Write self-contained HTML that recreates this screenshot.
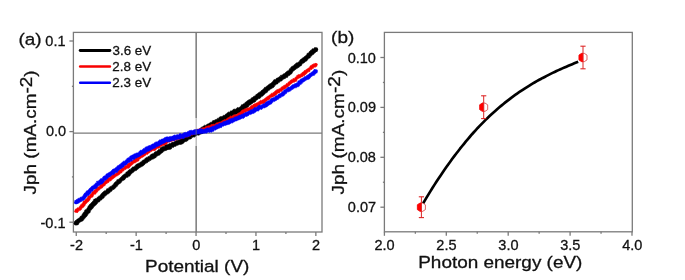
<!DOCTYPE html>
<html><head><meta charset="utf-8"><style>
html,body{margin:0;padding:0;background:#fff;}
svg{display:block;will-change:transform;}
text{font-family:"Liberation Sans",sans-serif;stroke:#111;stroke-width:0.3px;}
</style></head><body>
<svg width="685" height="280" viewBox="0 0 685 280"><g>
<rect width="685" height="280" fill="#fff"/>
<rect x="73.4" y="32.4" width="248.6" height="199.6" fill="none" stroke="#7a7a7a" stroke-width="1.3"/>
<line x1="73.40" y1="133.20" x2="322.00" y2="133.20" stroke="#7a7a7a" stroke-width="1.3"/>
<line x1="76.25" y1="232.00" x2="76.25" y2="236.00" stroke="#7a7a7a" stroke-width="1.3"/>
<line x1="136.15" y1="232.00" x2="136.15" y2="236.00" stroke="#7a7a7a" stroke-width="1.3"/>
<line x1="196.05" y1="232.00" x2="196.05" y2="236.00" stroke="#7a7a7a" stroke-width="1.3"/>
<line x1="255.95" y1="232.00" x2="255.95" y2="236.00" stroke="#7a7a7a" stroke-width="1.3"/>
<line x1="315.85" y1="232.00" x2="315.85" y2="236.00" stroke="#7a7a7a" stroke-width="1.3"/>
<line x1="106.20" y1="232.00" x2="106.20" y2="234.00" stroke="#7a7a7a" stroke-width="1.3"/>
<line x1="166.10" y1="232.00" x2="166.10" y2="234.00" stroke="#7a7a7a" stroke-width="1.3"/>
<line x1="226.00" y1="232.00" x2="226.00" y2="234.00" stroke="#7a7a7a" stroke-width="1.3"/>
<line x1="285.90" y1="232.00" x2="285.90" y2="234.00" stroke="#7a7a7a" stroke-width="1.3"/>
<line x1="69.40" y1="222.20" x2="73.40" y2="222.20" stroke="#7a7a7a" stroke-width="1.3"/>
<line x1="69.40" y1="131.60" x2="73.40" y2="131.60" stroke="#7a7a7a" stroke-width="1.3"/>
<line x1="69.40" y1="41.00" x2="73.40" y2="41.00" stroke="#7a7a7a" stroke-width="1.3"/>
<line x1="71.90" y1="176.90" x2="73.40" y2="176.90" stroke="#7a7a7a" stroke-width="1.3"/>
<line x1="71.90" y1="86.30" x2="73.40" y2="86.30" stroke="#7a7a7a" stroke-width="1.3"/>
<path d="M77.42,224.91 L78.47,224.40 L78.93,223.27 L79.42,222.65 L79.97,222.17 L80.84,221.75 L81.93,221.19 L83.04,220.76 L83.69,219.81 L84.30,218.97 L85.08,218.05 L85.94,217.21 L86.86,216.32 L87.63,214.94 L88.12,214.08 L89.09,213.18 L90.18,212.44 L90.33,210.80 L91.41,210.09 L91.71,209.01 L92.88,208.54 L93.35,207.64 L93.99,206.61 L95.30,205.56 L96.31,204.87 L96.49,203.88 L96.92,203.92 L97.62,203.17 L98.06,202.07 L99.36,202.06 L100.09,200.86 L100.56,200.13 L101.58,199.89 L102.12,199.38 L102.92,198.49 L104.09,197.81 L104.52,196.59 L105.41,196.18 L105.74,195.38 L106.75,195.08 L107.20,194.10 L108.39,194.08 L108.92,193.11 L109.72,192.97 L110.10,191.94 L111.01,191.52 L112.11,190.91 L112.09,189.77 L113.18,189.63 L114.59,188.97 L115.11,188.04 L115.77,187.78 L116.36,186.81 L117.43,186.23 L117.84,185.11 L118.22,184.84 L119.20,183.98 L120.16,183.38 L120.81,182.85 L121.51,182.23 L121.89,181.04 L122.94,180.45 L123.86,180.15 L124.76,179.63 L125.31,178.85 L125.91,178.30 L126.60,177.37 L128.13,177.26 L128.17,176.27 L129.36,176.25 L130.28,175.48 L130.86,174.39 L131.30,173.71 L131.91,173.49 L132.74,172.67 L133.96,171.83 L134.57,171.09 L135.12,170.74 L135.48,170.71 L136.43,170.56 L137.25,169.44 L138.36,169.00 L138.68,168.11 L139.03,167.90 L140.01,167.65 L140.95,166.82 L142.16,166.57 L142.71,165.90 L143.25,165.87 L144.07,164.89 L144.84,164.45 L145.66,163.60 L146.14,162.84 L146.87,163.07 L147.91,162.30 L148.43,161.47 L149.27,161.41 L149.54,160.61 L150.71,160.53 L151.45,159.76 L152.00,159.56 L152.82,158.94 L153.88,158.86 L154.50,158.36 L155.45,158.01 L156.39,156.94 L156.71,155.98 L157.21,156.14 L158.01,155.45 L159.32,155.16 L160.20,154.46 L160.34,154.20 L161.20,153.53 L162.24,152.76 L163.11,152.18 L163.55,151.25 L164.43,151.05 L164.68,150.87 L164.93,150.70 L166.14,150.43 L167.58,149.71 L168.10,148.79 L167.63,148.88 L167.66,149.51 L169.58,149.43 L171.42,148.91 L171.78,147.71 L172.15,147.30 L173.33,147.50 L173.81,147.13 L174.10,146.73 L174.83,146.26 L176.07,146.31 L176.79,145.27 L177.31,145.45 L178.00,144.77 L178.73,144.88 L179.22,144.41 L180.53,144.40 L181.29,144.49 L181.90,143.89 L182.88,143.67 L183.73,142.94 L184.69,142.09 L185.16,141.53 L186.32,141.64 L186.91,140.79 L187.89,140.76 L188.23,139.58 L188.96,139.51 L189.75,139.11 L190.80,138.96 L191.59,138.48 L191.58,137.82 L192.33,137.50 L193.14,136.92 L194.53,137.16 L195.05,136.26 L195.12,136.14 L195.81,136.17 L196.71,135.28 L197.77,134.97 L198.59,135.27 L199.10,135.00 L199.96,134.62 L200.87,133.92 L201.98,133.68 L203.22,133.24 L203.43,131.90 L203.96,132.04 L204.71,131.51 L205.68,131.20 L206.46,130.56 L206.80,130.26 L207.60,129.86 L208.52,129.41 L209.15,129.08 L210.01,128.60 L210.41,128.51 L211.42,128.32 L212.36,127.44 L212.79,127.13 L213.24,127.50 L214.21,126.80 L215.80,125.93 L216.84,124.88 L216.66,124.92 L217.22,124.70 L218.50,124.13 L218.76,123.32 L219.19,123.83 L220.97,123.25 L221.79,122.23 L222.19,121.29 L222.46,121.38 L222.81,121.34 L224.09,120.82 L224.83,120.73 L225.21,120.05 L225.98,120.69 L227.21,119.75 L228.23,119.43 L229.28,118.65 L230.15,118.04 L230.87,117.50 L230.73,116.54 L231.57,116.92 L232.47,115.53 L233.25,115.60 L234.20,115.36 L234.97,114.94 L235.46,114.72 L235.49,114.29 L236.42,114.35 L237.57,113.83 L238.41,113.75 L239.37,113.43 L239.95,112.49 L241.02,113.13 L241.30,111.93 L242.32,111.38 L243.54,110.67 L244.38,109.96 L244.91,109.32 L245.54,108.59 L246.57,108.20 L247.02,107.61 L248.21,106.98 L248.80,106.44 L248.89,105.49 L249.44,105.36 L250.67,104.68 L251.83,103.87 L252.21,103.43 L252.84,103.18 L253.46,102.41 L254.32,102.29 L255.36,101.91 L255.95,100.60 L256.90,99.96 L257.44,99.68 L258.17,99.12 L258.80,98.55 L259.97,98.50 L260.86,97.46 L261.43,96.86 L261.89,95.94 L262.62,96.28 L263.28,95.57 L264.27,94.42 L265.17,93.68 L265.91,92.75 L266.67,92.87 L267.07,92.21 L268.08,91.31 L268.50,90.19 L269.56,90.16 L269.87,89.47 L270.70,88.88 L271.50,88.81 L272.20,88.10 L273.56,87.43 L274.38,86.65 L274.49,85.51 L275.46,85.29 L276.05,84.28 L276.77,84.09 L277.70,83.95 L278.43,82.48 L279.66,82.28 L279.87,81.45 L279.89,81.02 L280.86,81.28 L282.06,80.63 L282.68,79.80 L283.76,79.09 L283.96,78.63 L285.07,78.73 L285.68,78.04 L286.14,77.60 L287.47,77.43 L288.14,75.91 L288.96,75.43 L289.92,75.33 L290.27,74.50 L291.53,74.02 L292.25,72.74 L292.81,71.74 L293.61,71.02 L294.08,70.56 L294.58,70.30 L295.26,69.62 L296.05,69.33 L297.03,68.30 L298.00,67.85 L298.61,67.49 L299.24,67.15 L299.76,66.16 L301.27,65.70 L301.93,64.53 L302.34,63.57 L303.18,63.24 L303.82,63.06 L304.77,62.32 L305.55,61.57 L306.08,61.30 L306.99,60.69 L307.71,59.73 L308.10,58.69 L309.01,58.35 L310.20,57.74 L310.91,56.36 L311.76,55.79 L312.33,55.22 L312.98,54.50 L313.93,54.11 L314.20,53.18 L315.25,52.76 L315.63,52.19 L316.34,51.54 L317.12,51.51 L314.88,47.44 L314.23,48.34 L313.45,48.86 L312.12,48.82 L311.69,50.01 L310.75,50.23 L309.81,51.05 L309.27,51.77 L308.67,53.03 L307.00,53.43 L306.88,54.77 L306.37,55.08 L305.56,55.78 L304.77,56.45 L303.98,56.82 L303.63,57.55 L302.43,57.92 L301.84,58.90 L301.23,59.09 L300.26,59.74 L299.60,60.95 L298.72,61.80 L297.90,62.55 L297.38,62.73 L296.66,62.85 L295.68,63.43 L294.90,64.38 L293.86,64.96 L293.81,65.62 L293.18,66.00 L292.21,66.25 L291.35,66.81 L290.47,68.15 L289.44,68.79 L289.04,70.01 L288.53,70.84 L287.74,70.85 L286.88,71.42 L285.93,72.12 L285.14,72.98 L284.71,73.56 L284.30,73.49 L283.25,73.95 L282.73,74.80 L281.99,75.17 L280.47,75.33 L280.27,76.63 L279.47,76.43 L279.05,76.88 L278.64,77.33 L277.29,78.12 L276.09,78.54 L275.53,79.72 L274.68,79.60 L273.89,79.71 L273.12,81.04 L272.45,81.63 L271.80,82.41 L270.91,83.27 L269.99,83.86 L269.48,84.06 L269.02,84.48 L268.01,85.08 L267.52,85.73 L266.50,86.17 L265.83,87.29 L264.62,87.36 L264.37,88.00 L263.68,88.56 L262.72,89.75 L261.76,90.37 L261.03,90.83 L260.82,91.43 L260.22,91.63 L259.08,92.39 L258.15,92.88 L257.43,93.70 L256.84,94.28 L256.10,94.37 L255.48,95.39 L254.79,95.89 L253.54,96.38 L252.94,97.33 L252.38,97.62 L251.60,97.70 L251.03,98.52 L250.41,99.22 L249.47,99.61 L248.08,100.21 L247.43,100.68 L247.38,100.86 L246.46,101.49 L245.38,102.21 L244.64,103.06 L244.06,103.64 L243.27,104.11 L242.32,104.82 L241.36,104.84 L240.93,106.32 L240.05,106.73 L240.01,107.74 L239.11,107.04 L238.58,108.06 L237.21,107.51 L236.68,108.24 L236.24,108.79 L235.44,109.10 L235.15,109.47 L234.43,109.02 L233.07,109.51 L232.20,110.41 L231.57,111.05 L230.50,110.86 L229.96,112.08 L229.46,112.21 L228.50,111.97 L227.12,113.01 L226.64,113.86 L225.49,114.11 L225.32,114.73 L224.71,114.99 L224.69,115.60 L223.64,115.13 L222.77,116.09 L222.09,116.55 L221.68,116.62 L220.64,116.58 L218.97,117.43 L218.58,118.42 L217.40,118.23 L217.94,118.99 L216.79,119.22 L215.48,119.61 L215.29,119.76 L214.44,120.23 L212.48,120.83 L212.10,122.15 L212.25,121.90 L211.85,122.21 L210.63,122.27 L209.51,123.09 L209.08,123.22 L208.66,123.80 L207.49,124.06 L206.72,124.45 L206.17,125.17 L205.32,125.41 L204.55,125.16 L203.49,126.12 L202.75,126.47 L202.22,126.98 L201.45,127.21 L200.36,128.01 L199.73,129.09 L199.09,129.14 L198.54,129.63 L198.00,129.61 L197.42,129.93 L196.41,130.05 L195.60,130.92 L195.05,131.05 L194.67,131.05 L193.79,131.14 L192.39,131.74 L191.71,132.60 L191.07,132.42 L190.56,132.95 L189.83,133.04 L188.75,133.91 L187.91,134.37 L187.09,134.35 L186.56,135.19 L185.48,135.38 L184.55,135.77 L184.02,136.52 L183.35,137.27 L182.74,137.77 L181.46,138.08 L181.30,138.97 L180.54,138.58 L180.10,139.33 L179.28,139.30 L178.43,139.93 L178.17,140.18 L177.29,140.33 L176.21,140.52 L175.69,140.96 L174.49,141.43 L173.95,141.93 L173.68,142.30 L172.82,142.06 L171.80,142.44 L170.89,143.23 L170.18,143.39 L168.95,143.79 L168.37,144.71 L168.49,144.89 L168.89,144.17 L167.37,144.42 L165.06,144.88 L164.49,146.06 L164.37,146.25 L164.10,146.41 L162.86,146.47 L161.56,147.14 L160.46,147.59 L160.01,148.69 L159.32,149.41 L158.63,149.55 L158.18,149.86 L157.22,150.88 L156.27,151.48 L155.85,151.62 L155.13,151.72 L154.16,152.60 L153.23,153.67 L152.59,153.70 L152.01,154.12 L151.00,154.36 L150.37,154.93 L149.92,155.52 L149.19,156.38 L148.14,156.48 L147.94,157.18 L146.74,157.26 L145.88,157.95 L145.00,158.40 L144.74,159.07 L144.00,159.77 L142.61,160.15 L142.18,160.64 L141.55,161.39 L141.03,161.85 L140.11,162.30 L139.15,163.17 L138.27,163.21 L138.06,164.10 L137.33,163.82 L136.13,164.50 L135.26,165.32 L135.12,166.47 L134.27,166.19 L133.86,166.95 L132.50,167.06 L131.51,168.01 L130.68,168.91 L130.30,169.74 L129.43,169.36 L128.50,170.22 L127.61,171.11 L127.03,172.00 L126.09,172.02 L125.78,173.13 L124.82,173.82 L123.85,174.39 L123.37,174.78 L122.45,175.39 L121.77,176.28 L121.16,177.07 L120.25,177.73 L119.43,178.40 L118.90,178.93 L118.12,179.61 L116.82,179.83 L116.69,181.28 L116.05,181.36 L115.10,182.05 L114.17,183.12 L113.86,183.85 L113.09,184.45 L112.31,185.18 L111.38,186.16 L110.55,186.24 L110.15,186.90 L108.92,187.38 L108.46,188.20 L107.95,188.71 L106.74,188.73 L106.29,189.84 L105.76,190.87 L104.51,190.67 L103.84,191.55 L102.99,191.88 L102.17,192.78 L101.26,193.69 L100.65,194.66 L100.00,195.17 L99.77,196.07 L98.60,196.21 L97.76,197.00 L96.88,197.67 L96.27,198.45 L95.54,198.51 L94.74,199.09 L93.94,199.12 L93.21,200.65 L92.22,201.83 L91.27,202.87 L90.41,203.71 L89.82,204.11 L89.10,205.24 L88.22,206.01 L87.75,207.31 L86.88,208.45 L86.28,209.57 L84.87,209.93 L84.54,211.22 L83.62,212.18 L82.86,213.41 L82.30,213.97 L81.91,215.23 L81.31,215.93 L80.23,216.35 L79.84,217.41 L79.04,217.89 L78.46,218.37 L77.91,218.86 L76.86,219.34 L76.15,220.35 L75.07,220.77 L74.68,221.58Z" fill="#000" stroke="#000" stroke-width="0.6" stroke-linejoin="round"/>
<circle cx="76.00" cy="223.18" r="2.23" fill="#000"/>
<circle cx="316.00" cy="49.48" r="2.18" fill="#000"/>
<path d="M77.03,212.70 L78.08,212.12 L78.48,211.02 L78.90,210.80 L79.84,210.55 L81.02,209.99 L81.74,208.78 L82.44,208.12 L83.13,207.39 L84.03,206.68 L84.89,205.72 L85.41,204.61 L86.19,203.62 L86.99,202.96 L87.50,202.10 L88.45,201.67 L89.44,200.54 L90.11,199.38 L90.67,198.22 L91.28,197.62 L92.47,197.27 L93.11,196.39 L93.54,195.10 L94.31,194.37 L95.45,194.15 L96.08,193.53 L96.68,192.51 L97.80,191.71 L97.92,190.22 L98.50,190.49 L99.37,190.18 L99.97,189.17 L101.02,188.48 L102.03,188.09 L102.85,187.40 L103.27,186.41 L104.13,185.96 L105.15,185.52 L105.59,184.38 L105.97,183.67 L106.88,183.68 L107.79,182.77 L108.92,182.35 L109.42,181.33 L109.81,180.76 L110.84,181.08 L111.44,179.94 L112.44,179.27 L113.18,178.79 L113.85,178.20 L114.49,177.68 L115.29,177.13 L115.64,176.75 L116.35,176.18 L117.41,175.80 L118.20,175.31 L118.99,174.68 L119.95,174.08 L120.59,172.97 L121.51,172.88 L122.12,172.45 L122.38,171.29 L123.45,171.10 L124.10,170.57 L124.66,169.47 L125.99,169.38 L126.34,168.50 L126.68,168.64 L127.53,168.24 L128.90,168.14 L129.94,167.11 L130.48,166.26 L131.15,165.72 L131.69,165.20 L132.68,164.49 L133.17,163.63 L133.74,163.62 L134.45,163.06 L135.54,162.78 L136.46,162.13 L136.99,161.57 L137.99,161.22 L139.08,160.69 L138.95,159.28 L140.18,159.06 L140.78,158.08 L141.15,157.97 L141.92,157.44 L142.91,157.15 L143.67,156.68 L144.34,155.98 L145.21,155.71 L145.94,154.87 L146.27,154.26 L147.50,154.56 L148.17,153.74 L148.89,153.02 L149.82,152.72 L150.46,151.96 L150.93,151.07 L151.85,151.44 L152.23,150.60 L153.13,150.66 L153.66,150.49 L154.77,150.66 L155.93,149.84 L156.48,149.17 L157.10,148.49 L157.64,148.21 L158.77,148.31 L159.67,147.68 L160.10,147.30 L160.92,146.36 L161.73,146.30 L162.17,145.75 L162.69,145.48 L163.37,145.46 L164.53,145.29 L165.58,144.62 L166.55,144.00 L167.20,143.58 L167.45,143.17 L167.88,142.39 L168.82,142.12 L169.96,142.11 L170.63,141.48 L171.40,141.84 L171.84,141.00 L172.37,140.88 L173.12,140.98 L173.73,140.93 L174.64,140.51 L175.52,140.38 L176.27,139.81 L177.00,139.46 L177.56,139.97 L178.21,139.19 L179.48,139.56 L180.31,138.97 L180.81,138.90 L181.45,138.71 L182.07,138.56 L182.98,137.66 L183.87,137.46 L184.55,137.39 L185.11,137.51 L185.57,137.08 L186.52,137.05 L187.63,136.90 L188.67,136.78 L189.14,135.88 L189.76,135.48 L190.44,135.94 L191.21,134.95 L192.09,135.24 L192.85,134.85 L193.41,134.22 L194.12,134.47 L195.10,133.98 L196.07,133.84 L196.82,133.51 L197.63,133.46 L198.02,132.86 L198.72,132.78 L199.29,132.37 L200.06,132.52 L201.22,132.41 L201.65,131.45 L202.80,131.80 L203.51,131.00 L203.99,130.99 L204.57,130.95 L205.53,130.92 L206.47,130.40 L207.17,129.91 L207.91,129.80 L208.84,129.37 L209.25,128.92 L209.44,129.18 L210.63,129.28 L211.78,128.69 L212.39,128.31 L212.74,127.93 L213.44,128.09 L214.22,127.62 L215.38,127.95 L216.17,127.21 L217.46,127.10 L218.26,126.95 L218.39,126.07 L219.33,126.08 L219.87,125.65 L220.60,125.14 L221.17,124.79 L221.91,125.07 L223.22,124.84 L224.00,123.99 L224.48,123.18 L225.17,122.84 L225.92,122.82 L226.71,122.84 L227.60,122.33 L228.40,121.69 L229.05,121.77 L229.78,120.97 L230.78,120.50 L231.64,119.62 L231.65,119.00 L232.17,119.74 L233.42,119.35 L234.36,119.09 L234.87,118.21 L235.60,118.01 L236.51,118.09 L237.37,117.56 L238.15,117.33 L238.61,116.64 L239.66,116.33 L240.30,115.70 L241.27,115.41 L241.91,114.66 L242.95,114.31 L243.84,113.55 L244.22,113.17 L244.49,112.35 L245.67,112.65 L246.32,112.01 L246.71,111.57 L247.57,111.26 L248.15,111.23 L248.76,111.35 L249.56,110.92 L250.65,110.35 L251.92,109.83 L252.68,109.21 L253.77,108.89 L253.87,107.69 L254.98,107.91 L255.54,107.56 L256.03,106.70 L256.64,106.97 L257.34,106.25 L258.13,106.25 L258.92,105.47 L259.85,105.16 L260.51,104.49 L261.15,103.87 L261.76,103.94 L262.41,103.72 L263.47,103.67 L264.61,103.28 L265.32,102.24 L266.14,101.59 L266.91,100.94 L267.19,100.04 L267.96,100.28 L268.87,99.76 L269.90,98.98 L270.46,97.93 L270.94,97.35 L271.80,97.23 L272.72,96.99 L273.57,96.54 L274.15,96.33 L275.10,95.78 L275.72,95.11 L276.74,94.60 L277.35,93.60 L278.14,93.12 L278.58,92.92 L279.41,93.13 L280.10,92.08 L280.66,91.30 L281.91,91.38 L282.44,90.20 L283.24,89.81 L283.73,89.38 L284.40,89.00 L285.62,88.87 L286.32,88.16 L286.87,87.34 L287.83,86.93 L288.56,85.99 L289.49,85.58 L289.97,84.68 L290.52,84.32 L291.47,83.68 L292.25,82.98 L292.84,82.77 L293.14,82.34 L294.31,82.25 L295.32,81.51 L296.33,81.49 L296.95,80.44 L297.11,79.11 L298.34,78.74 L298.98,78.13 L299.59,77.97 L300.10,78.04 L300.47,77.82 L301.44,76.89 L302.96,76.57 L303.60,75.71 L304.16,75.53 L305.02,75.24 L305.66,74.17 L306.89,73.56 L307.01,72.55 L308.09,72.34 L308.87,71.62 L309.80,71.63 L310.17,70.35 L310.75,69.60 L311.95,69.43 L312.48,68.44 L313.65,68.24 L313.90,67.09 L314.11,66.98 L315.18,67.36 L316.16,66.44 L317.03,66.15 L315.13,63.21 L314.45,63.81 L314.08,64.39 L313.27,63.74 L312.15,64.80 L310.99,65.40 L310.24,65.87 L309.80,66.96 L309.13,67.48 L308.36,68.08 L307.73,68.76 L306.71,69.03 L306.10,70.03 L305.24,70.26 L304.00,70.78 L303.53,71.72 L303.13,72.07 L302.24,72.35 L301.56,73.35 L300.41,73.96 L300.22,74.14 L300.13,75.02 L298.97,74.34 L297.95,75.01 L296.78,75.41 L296.21,76.63 L295.40,77.19 L294.78,77.84 L294.24,78.65 L292.95,78.40 L292.75,79.52 L292.36,79.59 L291.16,79.75 L290.20,80.56 L289.47,81.31 L288.91,81.69 L288.10,82.31 L287.44,83.38 L286.30,83.55 L285.87,84.59 L285.25,85.03 L284.20,85.27 L283.45,85.64 L283.18,86.58 L282.23,86.46 L281.25,87.13 L280.57,87.96 L280.06,88.74 L279.24,88.77 L278.47,89.18 L277.85,89.43 L276.96,89.58 L276.02,90.47 L274.97,91.02 L274.51,91.87 L273.93,92.38 L273.00,92.49 L272.63,93.40 L271.47,93.19 L270.86,94.18 L270.26,94.53 L269.33,95.10 L268.60,95.92 L267.39,96.33 L267.15,96.91 L266.56,97.10 L265.69,97.72 L264.80,98.58 L263.82,99.00 L263.16,99.71 L262.43,99.98 L261.95,100.11 L261.56,100.67 L260.56,100.30 L259.55,101.08 L258.88,101.85 L258.14,102.15 L257.43,102.44 L256.98,102.88 L256.13,102.91 L255.57,103.58 L254.64,103.85 L253.57,104.00 L253.04,104.78 L252.18,105.59 L250.96,105.63 L250.33,106.61 L249.75,107.34 L249.07,107.59 L249.01,108.15 L248.24,107.66 L247.36,107.94 L246.34,108.27 L245.89,109.07 L244.75,108.85 L243.94,109.40 L243.38,109.65 L242.29,109.93 L241.29,110.71 L240.76,111.72 L240.11,112.03 L239.50,112.81 L238.66,112.91 L237.86,113.30 L237.47,114.03 L236.74,114.38 L235.78,114.64 L235.15,114.83 L234.18,114.64 L233.33,114.96 L232.99,116.22 L232.13,116.00 L231.87,116.41 L230.65,115.89 L229.35,117.06 L228.61,117.54 L228.14,117.76 L227.49,118.07 L226.70,118.64 L226.00,119.25 L225.58,119.71 L224.50,119.46 L223.77,120.02 L222.81,120.47 L222.02,120.90 L221.42,121.35 L221.14,121.55 L220.37,121.93 L219.40,122.08 L218.72,122.36 L217.86,122.65 L217.01,122.71 L216.07,123.13 L215.20,123.88 L214.66,124.05 L214.22,124.52 L213.66,124.29 L213.00,124.05 L212.21,124.76 L210.95,124.45 L210.40,125.78 L209.88,125.38 L209.56,125.69 L208.29,125.71 L207.17,126.22 L206.61,126.36 L205.72,126.53 L205.08,127.11 L204.64,127.64 L203.98,127.52 L203.07,127.69 L201.92,127.89 L201.33,128.50 L200.68,128.39 L199.80,128.62 L199.47,129.13 L198.67,128.90 L197.89,129.66 L196.99,129.42 L196.00,129.78 L195.25,130.23 L194.66,131.01 L193.73,130.71 L193.35,131.01 L192.56,131.44 L191.54,131.42 L191.00,131.94 L190.36,132.77 L189.57,132.16 L188.60,132.34 L187.68,132.94 L187.01,133.32 L186.23,133.35 L185.92,133.51 L185.42,133.73 L184.46,133.90 L183.54,134.53 L182.58,134.51 L181.96,135.18 L181.47,135.00 L180.58,134.88 L179.78,135.39 L178.61,135.24 L178.02,135.79 L177.79,136.36 L177.00,136.22 L176.03,136.61 L175.08,136.61 L174.42,136.51 L173.83,137.00 L173.27,136.89 L172.44,137.31 L171.72,137.88 L170.49,137.18 L169.86,138.18 L168.91,138.51 L168.05,139.06 L167.49,139.25 L166.90,139.52 L166.04,139.63 L164.99,140.42 L164.02,141.01 L163.58,141.87 L163.05,141.99 L162.70,142.47 L161.87,142.51 L160.76,142.54 L159.93,143.08 L158.89,143.51 L158.41,143.94 L157.70,144.56 L156.70,144.76 L156.39,145.24 L155.19,145.58 L154.56,146.23 L153.73,146.72 L153.33,147.05 L152.92,147.41 L151.90,147.61 L151.15,147.84 L150.41,148.46 L149.41,148.89 L148.43,149.36 L147.70,149.83 L147.26,150.82 L146.46,151.20 L145.77,151.58 L144.99,151.77 L143.96,152.20 L142.93,152.49 L142.56,153.19 L141.82,153.92 L141.13,154.26 L140.37,154.65 L139.69,154.66 L138.70,155.69 L137.78,156.53 L137.13,156.78 L136.28,157.52 L135.75,158.37 L134.84,158.35 L134.16,159.31 L133.42,159.78 L132.90,160.05 L132.44,160.92 L131.11,160.93 L130.68,162.34 L129.83,162.48 L128.97,162.93 L127.86,163.58 L127.03,164.29 L126.91,165.40 L126.39,165.16 L125.74,165.26 L124.46,165.65 L123.96,167.27 L123.19,167.69 L122.30,167.95 L121.44,168.15 L120.77,168.88 L120.23,169.51 L119.07,169.83 L118.21,170.65 L117.67,171.75 L117.15,172.25 L116.47,172.91 L115.64,173.18 L115.17,173.87 L114.42,173.84 L113.30,174.29 L112.53,174.89 L111.78,175.37 L110.92,176.08 L110.20,176.77 L109.60,177.54 L108.71,177.18 L108.01,178.03 L106.99,178.75 L106.48,179.93 L105.60,180.31 L104.98,180.66 L104.41,181.25 L103.77,182.50 L102.69,182.85 L101.99,183.47 L101.41,184.37 L100.13,184.59 L99.76,185.71 L99.00,186.40 L98.25,186.88 L97.50,186.67 L97.00,187.53 L95.82,188.16 L95.06,189.63 L94.21,189.96 L93.79,190.88 L92.72,191.21 L91.91,192.13 L91.47,193.30 L90.58,194.00 L90.07,194.84 L89.30,195.64 L87.98,196.06 L87.49,197.59 L86.62,198.46 L86.10,199.34 L85.18,199.53 L84.67,200.87 L83.11,201.13 L82.82,202.58 L82.09,203.39 L81.47,204.33 L80.59,204.71 L80.06,205.72 L79.31,206.62 L78.89,207.68 L78.31,207.85 L77.43,207.79 L76.55,208.63 L75.35,209.15 L75.27,210.11Z" fill="#f80000" stroke="#f80000" stroke-width="0.6" stroke-linejoin="round"/>
<circle cx="76.00" cy="211.18" r="1.65" fill="#f80000"/>
<circle cx="316.00" cy="64.55" r="1.65" fill="#f80000"/>
<path d="M76.87,203.79 L77.80,203.32 L78.66,203.15 L78.98,202.86 L80.00,202.36 L80.79,201.63 L81.59,201.39 L81.74,200.70 L82.60,200.72 L83.84,200.17 L84.79,199.31 L85.72,197.96 L86.55,197.10 L87.25,196.17 L87.79,195.48 L88.81,195.38 L89.60,194.32 L90.33,193.67 L90.93,192.69 L91.58,191.73 L91.88,191.16 L92.92,190.94 L93.59,189.59 L94.61,189.01 L95.31,188.72 L96.05,188.67 L97.04,187.63 L97.46,186.53 L98.27,186.32 L98.92,185.48 L100.03,184.96 L100.40,184.28 L101.21,184.15 L102.43,183.76 L103.09,182.66 L103.95,182.19 L104.33,181.36 L105.10,180.36 L106.13,180.05 L106.78,179.47 L106.86,178.84 L107.96,178.45 L108.66,177.30 L109.57,176.88 L110.23,176.68 L110.68,176.23 L111.59,175.57 L112.18,174.83 L113.14,174.87 L114.25,174.18 L114.99,173.38 L115.38,172.94 L115.75,172.40 L117.30,172.42 L117.94,171.15 L118.67,170.48 L119.41,170.04 L119.64,169.10 L120.73,168.90 L121.45,168.43 L122.47,167.82 L123.19,167.40 L123.84,166.89 L124.43,165.49 L125.30,165.22 L125.78,165.03 L126.63,164.70 L127.49,163.54 L128.20,162.74 L129.19,162.57 L129.70,162.18 L130.46,161.64 L130.84,160.81 L132.28,161.16 L132.42,159.34 L133.36,159.61 L134.39,159.61 L135.01,158.69 L135.80,158.07 L135.86,157.71 L136.64,158.19 L137.51,157.24 L138.63,157.05 L139.32,156.66 L140.09,155.90 L141.28,155.60 L141.50,154.68 L142.08,154.65 L143.08,154.38 L143.98,153.70 L144.84,153.35 L145.39,153.13 L146.05,152.54 L147.08,151.78 L147.81,151.14 L147.97,151.02 L148.41,151.37 L149.62,150.76 L150.94,150.20 L151.43,149.53 L151.77,149.32 L152.84,149.26 L153.45,148.47 L154.35,148.24 L155.26,148.22 L155.71,147.21 L156.55,147.11 L156.84,146.47 L157.68,146.66 L158.65,145.89 L159.87,145.57 L160.69,144.66 L161.42,144.39 L161.93,144.33 L162.45,144.00 L163.12,143.57 L163.55,143.49 L164.57,142.99 L165.31,142.63 L166.23,141.87 L167.02,141.88 L167.24,142.24 L167.56,141.95 L168.44,141.70 L169.72,142.02 L170.45,141.21 L170.81,141.03 L171.64,140.88 L172.55,140.60 L173.42,140.65 L174.48,140.78 L175.06,140.06 L175.42,139.59 L175.86,139.79 L176.94,139.71 L177.90,139.10 L178.75,139.18 L179.20,139.28 L180.31,138.93 L181.26,138.54 L181.35,137.97 L181.73,137.91 L182.68,138.65 L184.39,138.24 L185.00,136.94 L185.61,137.21 L186.01,136.96 L186.30,137.12 L187.44,136.98 L188.41,136.46 L189.39,136.37 L190.54,135.73 L191.08,135.21 L191.33,134.71 L191.66,134.23 L192.24,134.91 L193.58,134.48 L194.53,134.54 L194.84,134.61 L195.36,134.46 L196.34,134.26 L197.37,134.08 L197.79,134.22 L198.27,133.79 L199.79,134.03 L200.46,133.53 L200.70,133.52 L201.25,133.68 L201.95,133.27 L202.62,133.58 L203.19,133.26 L204.39,133.37 L205.45,133.08 L206.46,133.21 L207.15,132.56 L207.95,132.58 L208.69,131.99 L209.21,132.31 L209.89,132.54 L210.49,131.90 L211.69,132.25 L212.84,131.30 L213.79,131.33 L214.20,130.42 L214.69,129.85 L215.79,130.13 L216.35,129.49 L216.68,129.00 L217.65,129.07 L218.54,128.18 L219.43,128.30 L220.17,127.51 L221.24,127.74 L222.00,126.95 L222.17,126.16 L222.62,126.09 L223.55,126.16 L224.34,125.47 L225.24,125.62 L225.97,125.33 L226.63,124.92 L227.55,124.63 L228.54,124.41 L229.20,124.28 L230.12,124.01 L230.58,123.17 L231.17,123.35 L231.62,122.64 L232.49,122.97 L233.76,121.96 L234.66,121.77 L234.88,121.16 L235.62,120.97 L236.45,120.89 L237.17,120.80 L237.76,120.09 L238.88,119.93 L239.67,119.55 L240.35,119.40 L241.03,118.67 L241.96,118.59 L242.43,118.06 L242.87,118.56 L244.03,118.00 L244.87,117.07 L245.52,116.32 L246.44,116.48 L247.31,116.33 L247.92,115.72 L248.73,115.52 L249.35,114.82 L249.87,114.29 L250.70,114.60 L251.58,114.07 L252.19,113.89 L252.58,113.33 L253.72,113.43 L254.89,112.57 L255.98,111.91 L256.11,111.36 L256.56,111.24 L257.38,110.97 L258.44,111.04 L259.49,110.11 L260.16,109.07 L260.12,108.92 L260.42,109.10 L261.80,109.59 L262.84,108.28 L263.76,107.73 L264.26,107.93 L265.24,107.74 L265.72,106.99 L266.81,106.97 L267.89,105.98 L268.67,105.47 L269.10,104.69 L269.79,104.88 L270.38,104.13 L271.61,103.91 L272.16,102.44 L273.12,102.23 L273.30,101.43 L273.68,101.20 L274.67,101.54 L275.64,100.66 L276.70,100.34 L277.26,99.41 L278.24,99.51 L278.76,98.79 L279.47,97.95 L280.28,97.72 L281.07,97.56 L281.72,96.62 L282.73,96.33 L283.65,96.06 L284.20,95.41 L284.97,94.54 L285.62,93.79 L286.38,93.58 L286.85,92.71 L287.40,91.82 L288.49,91.88 L289.19,91.19 L290.05,91.49 L290.61,90.85 L291.43,90.04 L292.23,89.39 L293.20,89.18 L293.73,88.42 L294.37,88.02 L294.88,87.96 L295.35,87.85 L296.68,87.60 L297.66,86.70 L298.41,86.71 L299.57,85.97 L299.89,84.41 L301.25,84.36 L301.27,83.70 L302.41,83.29 L302.90,82.12 L303.54,81.94 L304.26,81.60 L305.24,80.84 L305.92,80.45 L306.09,80.34 L306.85,79.78 L307.86,79.45 L308.74,79.30 L309.85,78.57 L310.57,77.46 L311.25,76.77 L311.65,76.46 L312.19,76.09 L313.16,75.44 L314.46,75.35 L314.95,74.27 L315.78,73.71 L316.30,72.96 L317.18,73.02 L314.75,69.09 L313.99,69.91 L313.11,70.67 L312.47,71.43 L311.77,72.05 L311.09,72.43 L310.80,73.07 L309.85,73.15 L308.80,74.09 L307.97,74.95 L307.10,75.30 L306.68,75.45 L306.21,76.23 L305.65,76.65 L304.86,76.21 L303.96,77.46 L303.00,78.12 L302.29,78.29 L301.58,78.72 L300.41,79.31 L299.80,80.07 L299.25,80.40 L298.09,80.97 L297.47,82.33 L297.05,83.18 L296.14,82.93 L295.38,83.62 L294.85,84.22 L294.58,83.66 L293.67,84.51 L292.48,84.65 L291.70,85.51 L290.95,86.06 L290.15,86.64 L289.49,87.13 L288.79,87.12 L287.88,87.14 L287.14,88.24 L286.33,88.70 L285.74,89.33 L284.95,89.83 L283.89,89.75 L283.53,91.19 L282.42,91.44 L281.91,92.02 L281.25,92.63 L280.50,93.35 L279.82,93.81 L279.04,94.04 L278.18,94.31 L277.67,95.50 L276.82,95.63 L275.81,95.66 L275.08,96.57 L274.48,97.28 L273.95,97.87 L273.29,97.53 L272.78,98.06 L271.42,98.14 L270.54,99.09 L269.70,99.94 L269.23,100.64 L268.73,100.80 L267.83,100.92 L266.90,101.50 L265.89,102.23 L265.02,102.68 L264.74,103.36 L264.42,103.83 L263.32,103.83 L262.82,104.24 L261.56,104.66 L260.95,105.50 L260.74,105.27 L260.60,105.36 L259.27,105.11 L257.66,106.23 L256.84,106.85 L256.65,107.11 L256.10,107.53 L255.29,107.38 L254.12,107.66 L253.19,108.93 L252.30,109.39 L252.13,109.30 L251.82,109.67 L250.78,109.78 L249.91,110.43 L249.39,110.79 L248.57,111.12 L247.72,111.65 L247.04,112.11 L246.16,112.25 L245.30,112.49 L244.63,113.05 L243.69,113.40 L242.87,113.78 L242.56,114.24 L242.18,114.21 L241.12,114.55 L240.19,115.27 L239.29,115.03 L238.70,115.74 L237.78,115.79 L237.10,116.53 L236.61,116.50 L235.88,116.82 L235.01,116.96 L234.21,117.14 L233.62,117.92 L232.53,118.28 L231.32,118.32 L231.50,118.74 L230.85,118.79 L229.80,118.91 L228.90,119.32 L228.10,120.08 L227.53,120.34 L226.50,120.60 L225.81,120.75 L225.35,121.28 L224.48,121.29 L223.71,121.63 L222.85,121.64 L222.46,122.42 L221.88,122.65 L220.78,122.90 L219.67,123.37 L218.80,123.49 L218.25,124.13 L217.72,124.85 L216.55,124.31 L216.34,125.31 L215.73,124.94 L214.69,125.70 L213.99,126.14 L213.15,126.19 L212.25,126.37 L211.43,126.97 L210.55,127.02 L210.33,127.30 L209.99,127.26 L209.26,128.28 L208.39,128.00 L207.08,127.82 L206.54,128.34 L205.75,128.53 L205.08,128.92 L204.55,129.27 L204.09,129.08 L203.79,129.44 L202.86,129.00 L202.04,129.35 L201.25,128.81 L200.29,128.84 L199.08,129.00 L198.38,129.81 L198.23,129.55 L197.22,129.20 L196.07,129.46 L195.60,129.55 L195.13,129.59 L194.16,129.72 L193.06,130.37 L192.38,130.79 L192.26,130.54 L191.25,130.24 L189.94,130.55 L188.76,130.87 L188.09,132.01 L187.45,131.58 L187.00,132.02 L186.62,132.67 L186.20,132.22 L184.98,132.40 L183.86,132.72 L182.93,133.49 L182.23,133.80 L182.37,134.01 L181.77,134.19 L180.58,133.59 L179.17,133.82 L178.82,134.76 L178.40,134.88 L177.20,134.52 L176.38,134.88 L176.04,135.14 L175.63,135.23 L174.47,134.98 L173.39,135.61 L172.75,136.07 L172.01,136.04 L171.43,136.46 L170.82,136.67 L170.12,136.22 L169.05,136.94 L168.36,136.99 L168.04,137.04 L167.43,136.87 L166.28,136.95 L164.98,137.62 L163.89,137.98 L163.60,138.45 L162.99,138.89 L162.43,138.88 L161.44,139.02 L160.79,140.12 L159.74,139.76 L158.68,140.73 L157.84,141.35 L157.30,142.24 L156.56,141.83 L156.17,142.00 L155.44,142.15 L154.36,142.82 L153.84,143.69 L153.03,144.01 L152.05,143.97 L151.51,144.75 L150.78,144.95 L150.24,145.44 L149.02,145.53 L147.99,146.25 L147.82,146.50 L147.57,146.31 L146.49,146.73 L144.95,147.39 L144.55,148.56 L143.86,148.49 L143.12,148.70 L142.44,149.81 L141.60,150.25 L140.77,150.16 L140.21,150.36 L139.37,151.23 L138.62,152.23 L137.99,152.72 L137.33,152.92 L136.36,153.03 L135.87,153.47 L135.41,153.40 L134.56,153.80 L133.27,154.44 L132.41,155.02 L131.83,155.28 L130.94,155.69 L129.91,156.21 L129.47,157.21 L129.02,157.45 L128.00,157.95 L127.22,158.23 L126.53,159.24 L125.56,159.93 L125.16,160.97 L124.48,161.13 L123.70,161.07 L122.66,161.95 L121.67,162.66 L121.13,163.22 L120.66,163.88 L119.48,164.43 L119.01,164.94 L118.31,165.55 L117.39,165.81 L116.89,166.80 L115.91,167.55 L114.97,168.05 L114.54,168.83 L114.11,168.88 L112.98,169.05 L112.01,170.06 L111.34,170.83 L110.94,171.31 L110.28,171.86 L109.34,172.30 L108.82,172.59 L108.00,173.20 L106.81,173.71 L105.88,174.33 L105.89,175.58 L105.19,175.55 L104.12,176.10 L102.96,176.70 L102.52,177.68 L102.16,178.76 L100.88,178.61 L99.91,179.46 L99.33,179.96 L98.85,180.50 L98.20,181.19 L96.56,181.32 L96.77,182.94 L95.72,182.91 L94.88,183.74 L94.19,184.64 L93.71,185.03 L93.02,185.66 L91.61,186.27 L90.96,187.25 L90.36,187.70 L89.81,187.99 L88.95,189.17 L88.15,190.07 L87.41,190.63 L86.20,191.05 L86.11,192.26 L85.17,192.63 L84.09,193.62 L83.52,194.82 L82.76,195.94 L81.98,196.73 L81.57,196.89 L81.26,197.24 L80.55,197.01 L79.57,198.16 L78.50,198.31 L77.77,198.61 L77.60,199.36 L76.40,199.49 L75.60,200.42 L74.72,200.39Z" fill="#0000f8" stroke="#0000f8" stroke-width="0.6" stroke-linejoin="round"/>
<circle cx="76.00" cy="202.41" r="1.94" fill="#0000f8"/>
<circle cx="316.00" cy="71.11" r="1.90" fill="#0000f8"/>
<line x1="196.2" y1="32.4" x2="196.2" y2="232.0" stroke="#7a7a7a" stroke-width="1.3" stroke-opacity="0.55"/>
<line x1="196.2" y1="32.4" x2="196.2" y2="118" stroke="#7a7a7a" stroke-width="1.3"/>
<line x1="196.2" y1="146" x2="196.2" y2="232.0" stroke="#7a7a7a" stroke-width="1.3"/>
<line x1="80.2" y1="50.5" x2="109.9" y2="50.5" stroke="#000" stroke-width="2.9" stroke-linecap="round"/>
<line x1="80.2" y1="66.5" x2="109.9" y2="66.5" stroke="#f80000" stroke-width="2.6" stroke-linecap="round"/>
<line x1="80.2" y1="82.75" x2="109.9" y2="82.75" stroke="#0000f8" stroke-width="2.5" stroke-linecap="round"/>
<text transform="translate(112.50,54.60) scale(0.9903,1)" font-size="13.5" fill="#111">3.6 eV</text>
<text transform="translate(112.33,71.00) scale(0.9946,1)" font-size="13.5" fill="#111">2.8 eV</text>
<text transform="translate(112.33,87.10) scale(0.9946,1)" font-size="13.5" fill="#111">2.3 eV</text>
<text transform="translate(45.33,46.36) scale(1.0000,1)" font-size="14.5" fill="#111">0.1</text>
<text transform="translate(45.99,136.46) scale(1.0000,1)" font-size="14.5" fill="#111">0.0</text>
<text transform="translate(40.51,227.86) scale(1.0000,1)" font-size="14.5" fill="#111">-0.1</text>
<text transform="translate(70.05,250.30) scale(1.0000,1)" font-size="14.5" fill="#111">-2</text>
<text transform="translate(129.93,250.30) scale(1.0000,1)" font-size="14.5" fill="#111">-1</text>
<text transform="translate(192.21,250.30) scale(1.0000,1)" font-size="14.5" fill="#111">0</text>
<text transform="translate(251.93,250.30) scale(1.0000,1)" font-size="14.5" fill="#111">1</text>
<text transform="translate(312.03,250.30) scale(1.0000,1)" font-size="14.5" fill="#111">2</text>
<text transform="translate(145.04,271.80) scale(1.1155,1)" font-size="17" fill="#111">Potential (V)</text>
<g transform="translate(36.10,194.10) rotate(-90) translate(-0.28,0) scale(1.1132,1)"><text font-size="17" fill="#111">Jph (mA.cm<tspan font-size="17" dy="-4.3">-2</tspan><tspan dy="4.3">)</tspan></text></g>
<text transform="translate(18.42,44.80) scale(1.0892,1)" font-size="17.4" fill="#111">(a)</text>
<rect x="384.4" y="32.4" width="247.89999999999998" height="199.4" fill="none" stroke="#7a7a7a" stroke-width="1.3"/>
<line x1="384.40" y1="231.80" x2="384.40" y2="235.80" stroke="#7a7a7a" stroke-width="1.3"/>
<line x1="446.30" y1="231.80" x2="446.30" y2="235.80" stroke="#7a7a7a" stroke-width="1.3"/>
<line x1="508.20" y1="231.80" x2="508.20" y2="235.80" stroke="#7a7a7a" stroke-width="1.3"/>
<line x1="570.10" y1="231.80" x2="570.10" y2="235.80" stroke="#7a7a7a" stroke-width="1.3"/>
<line x1="632.00" y1="231.80" x2="632.00" y2="235.80" stroke="#7a7a7a" stroke-width="1.3"/>
<line x1="415.35" y1="231.80" x2="415.35" y2="233.80" stroke="#7a7a7a" stroke-width="1.3"/>
<line x1="477.25" y1="231.80" x2="477.25" y2="233.80" stroke="#7a7a7a" stroke-width="1.3"/>
<line x1="539.15" y1="231.80" x2="539.15" y2="233.80" stroke="#7a7a7a" stroke-width="1.3"/>
<line x1="601.05" y1="231.80" x2="601.05" y2="233.80" stroke="#7a7a7a" stroke-width="1.3"/>
<line x1="380.40" y1="207.20" x2="384.40" y2="207.20" stroke="#7a7a7a" stroke-width="1.3"/>
<line x1="380.40" y1="157.30" x2="384.40" y2="157.30" stroke="#7a7a7a" stroke-width="1.3"/>
<line x1="380.40" y1="107.40" x2="384.40" y2="107.40" stroke="#7a7a7a" stroke-width="1.3"/>
<line x1="380.40" y1="57.50" x2="384.40" y2="57.50" stroke="#7a7a7a" stroke-width="1.3"/>
<line x1="382.90" y1="182.25" x2="384.40" y2="182.25" stroke="#7a7a7a" stroke-width="1.3"/>
<line x1="382.90" y1="132.35" x2="384.40" y2="132.35" stroke="#7a7a7a" stroke-width="1.3"/>
<line x1="382.90" y1="82.45" x2="384.40" y2="82.45" stroke="#7a7a7a" stroke-width="1.3"/>
<text transform="translate(347.82,212.26) scale(1.0000,1)" font-size="14.5" fill="#111">0.07</text>
<text transform="translate(347.71,162.36) scale(1.0000,1)" font-size="14.5" fill="#111">0.08</text>
<text transform="translate(347.75,112.46) scale(1.0000,1)" font-size="14.5" fill="#111">0.09</text>
<text transform="translate(347.64,62.56) scale(1.0000,1)" font-size="14.5" fill="#111">0.10</text>
<text transform="translate(374.43,250.10) scale(1.0000,1)" font-size="14.5" fill="#111">2.0</text>
<text transform="translate(436.35,250.10) scale(1.0000,1)" font-size="14.5" fill="#111">2.5</text>
<text transform="translate(498.32,250.10) scale(1.0000,1)" font-size="14.5" fill="#111">3.0</text>
<text transform="translate(560.24,250.10) scale(1.0000,1)" font-size="14.5" fill="#111">3.5</text>
<text transform="translate(622.23,250.10) scale(1.0000,1)" font-size="14.5" fill="#111">4.0</text>
<text transform="translate(418.24,268.10) scale(1.1140,1)" font-size="17" fill="#111">Photon energy (eV)</text>
<g transform="translate(343.80,194.20) rotate(-90) translate(-0.29,0) scale(1.1196,1)"><text font-size="17" fill="#111">Jph (mA.cm<tspan font-size="17" dy="-4.3">-2</tspan><tspan dy="4.3">)</tspan></text></g>
<text transform="translate(331.12,42.60) scale(1.0892,1)" font-size="17.4" fill="#111">(b)</text>
<path d="M422.6,204.30 L424.6,200.93 L426.5,197.61 L428.5,194.35 L430.5,191.15 L432.4,187.99 L434.4,184.89 L436.4,181.85 L438.4,178.85 L440.3,175.90 L442.3,172.96 L444.3,170.07 L446.2,167.23 L448.2,164.44 L450.2,161.70 L452.1,159.01 L454.1,156.37 L456.1,153.77 L458.1,151.22 L460.0,148.72 L462.0,146.24 L464.0,143.80 L465.9,141.40 L467.9,139.05 L469.9,136.75 L471.8,134.49 L473.8,132.27 L475.8,130.10 L477.7,127.96 L479.7,125.87 L481.7,123.83 L483.7,121.83 L485.6,119.87 L487.6,117.95 L489.6,116.07 L491.5,114.23 L493.5,112.43 L495.5,110.66 L497.4,108.93 L499.4,107.24 L501.4,105.59 L503.4,103.97 L505.3,102.38 L507.3,100.83 L509.3,99.31 L511.2,97.83 L513.2,96.38 L515.2,94.97 L517.1,93.58 L519.1,92.23 L521.1,90.89 L523.1,89.57 L525.0,88.28 L527.0,87.02 L529.0,85.79 L530.9,84.58 L532.9,83.41 L534.9,82.26 L536.8,81.14 L538.8,80.04 L540.8,78.98 L542.7,77.93 L544.7,76.92 L546.7,75.88 L548.7,74.86 L550.6,73.87 L552.6,72.90 L554.6,71.95 L556.5,71.02 L558.5,70.12 L560.5,69.23 L562.4,68.37 L564.4,67.52 L566.4,66.66 L568.4,65.80 L570.3,64.95 L572.3,64.13 L574.3,63.32 L576.2,62.53 L578.2,61.76" fill="none" stroke="#000" stroke-width="2.7" stroke-linejoin="round"/>
<line x1="421.40" y1="196.80" x2="421.40" y2="217.60" stroke="#dc2626" stroke-width="1.0"/>
<line x1="418.80" y1="196.80" x2="424.00" y2="196.80" stroke="#dc2626" stroke-width="1.1"/>
<line x1="418.80" y1="217.60" x2="424.00" y2="217.60" stroke="#dc2626" stroke-width="1.1"/>
<polygon points="420.10,203.05 422.70,203.05 425.40,204.80 425.40,209.60 422.70,211.35 420.10,211.35 417.40,209.60 417.40,204.80" fill="#fff" stroke="#d84848" stroke-width="0.85" stroke-linejoin="round"/>
<polygon points="421.40,203.05 420.10,203.05 417.40,204.80 417.40,209.60 420.10,211.35 421.40,211.35" fill="#ff0000" stroke="#ff0000" stroke-width="0.5" stroke-linejoin="round"/>
<line x1="421.40" y1="203.05" x2="421.40" y2="211.35" stroke="#dc2626" stroke-width="0.9"/>
<line x1="483.70" y1="95.80" x2="483.70" y2="118.60" stroke="#dc2626" stroke-width="1.0"/>
<line x1="481.10" y1="95.80" x2="486.30" y2="95.80" stroke="#dc2626" stroke-width="1.1"/>
<line x1="481.10" y1="118.60" x2="486.30" y2="118.60" stroke="#dc2626" stroke-width="1.1"/>
<polygon points="482.40,103.05 485.00,103.05 487.70,104.80 487.70,109.60 485.00,111.35 482.40,111.35 479.70,109.60 479.70,104.80" fill="#fff" stroke="#d84848" stroke-width="0.85" stroke-linejoin="round"/>
<polygon points="483.70,103.05 482.40,103.05 479.70,104.80 479.70,109.60 482.40,111.35 483.70,111.35" fill="#ff0000" stroke="#ff0000" stroke-width="0.5" stroke-linejoin="round"/>
<line x1="483.70" y1="103.05" x2="483.70" y2="111.35" stroke="#dc2626" stroke-width="0.9"/>
<line x1="583.00" y1="46.20" x2="583.00" y2="68.80" stroke="#dc2626" stroke-width="1.0"/>
<line x1="580.40" y1="46.20" x2="585.60" y2="46.20" stroke="#dc2626" stroke-width="1.1"/>
<line x1="580.40" y1="68.80" x2="585.60" y2="68.80" stroke="#dc2626" stroke-width="1.1"/>
<polygon points="581.70,53.35 584.30,53.35 587.00,55.10 587.00,59.90 584.30,61.65 581.70,61.65 579.00,59.90 579.00,55.10" fill="#fff" stroke="#d84848" stroke-width="0.85" stroke-linejoin="round"/>
<polygon points="583.00,53.35 581.70,53.35 579.00,55.10 579.00,59.90 581.70,61.65 583.00,61.65" fill="#ff0000" stroke="#ff0000" stroke-width="0.5" stroke-linejoin="round"/>
<line x1="583.00" y1="53.35" x2="583.00" y2="61.65" stroke="#dc2626" stroke-width="0.9"/>
</g></svg>
</body></html>
